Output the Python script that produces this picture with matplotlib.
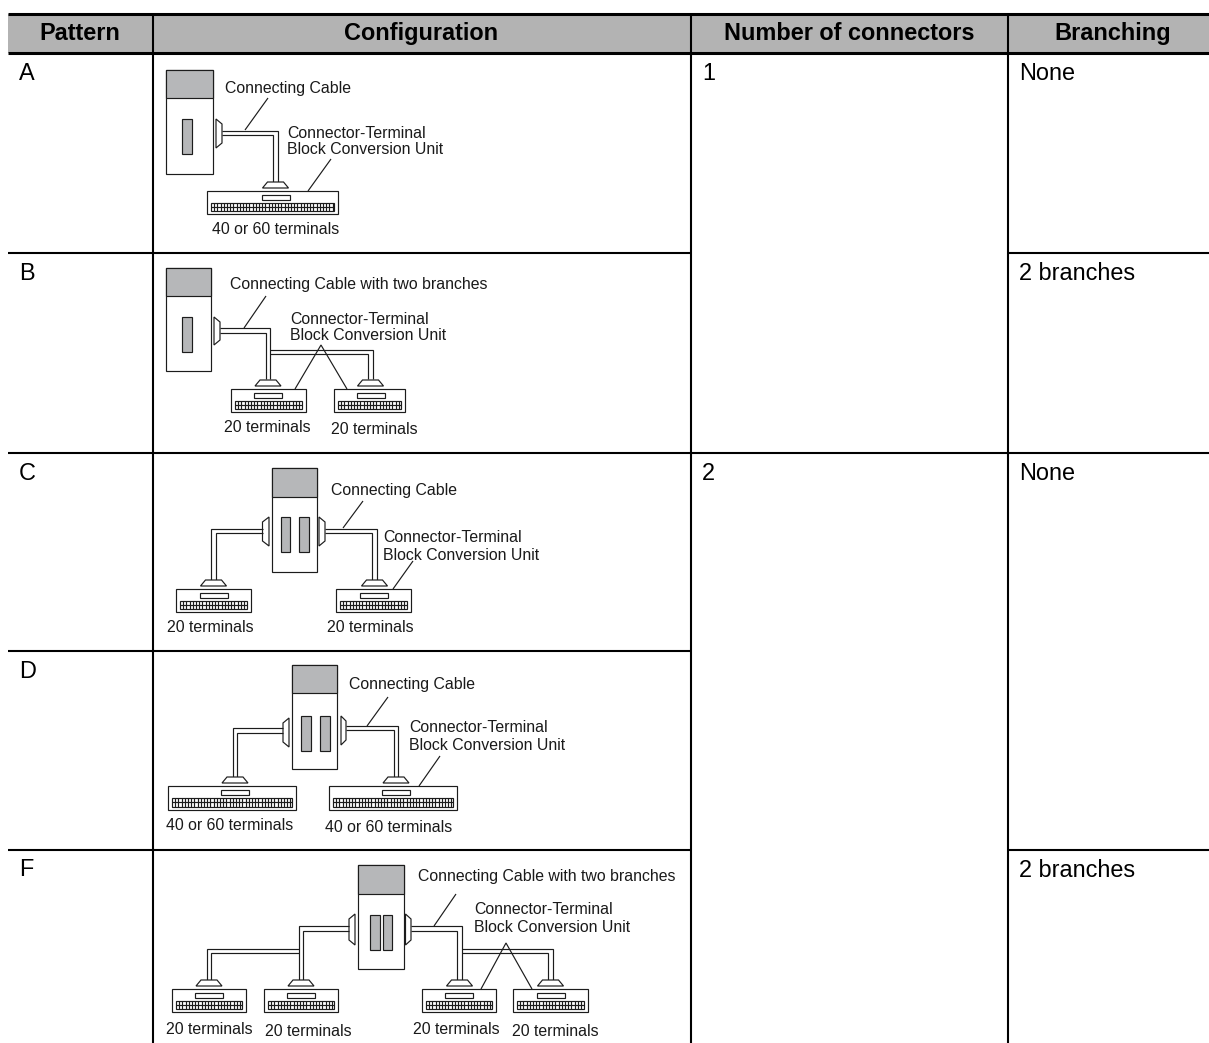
import matplotlib
matplotlib.use("Agg")
import matplotlib.pyplot as plt
from matplotlib.patches import Rectangle, Polygon

plt.rcParams['font.family'] = ['Liberation Sans', 'DejaVu Sans']

headers = ["Pattern", "Configuration", "Number of connectors", "Branching"]
patterns = ["A", "B", "C", "D", "F"]
connectors = ["1", "2"]
branching = ["None", "2 branches", "None", "2 branches"]
CABLE = "Connecting Cable"
CABLE2 = "Connecting Cable with two branches"
UNIT1 = "Connector-Terminal"
UNIT2 = "Block Conversion Unit"
T40 = "40 or 60 terminals"
T20 = "20 terminals"

INK = "#1c1c1c"
GREY = "#b6b7b9"
LW = 0.85

fig = plt.figure(figsize=(12.09, 10.43), dpi=100)
ax = fig.add_axes([0, 0, 1, 1])
ax.set_xlim(0, 1209)
ax.set_ylim(1043, 0)
ax.axis("off")


def hline(y, x0, x1, lw=1.5):
    ax.plot([x0, x1], [y, y], color="black", lw=lw, solid_capstyle="butt", zorder=5)


def vline(x, y0, y1, lw=1.5):
    ax.plot([x, x], [y0, y1], color="black", lw=lw, solid_capstyle="butt", zorder=5)


def box(x0, y0, x1, y1, fc="white", lw=LW):
    ax.add_patch(Rectangle((x0, y0), x1 - x0, y1 - y0, fc=fc, ec=INK, lw=lw, zorder=3))


def seg(pts, lw=LW, z=3):
    xs, ys = zip(*pts)
    ax.plot(xs, ys, color=INK, lw=lw, solid_joinstyle="miter", solid_capstyle="butt", zorder=z)


def small(x, yc, s):
    ax.text(x, yc + 5.5, s, fontsize=11.4, color="#1a1a1a", ha="left", va="baseline", zorder=6)


def cell(x, base, s):
    ax.text(x, base, s, fontsize=16.9, color="black", ha="left", va="baseline", zorder=6)


def plc(x0, x1, y0, ygrey, y1, slots, sy0, sy1):
    box(x0, y0, x1, y1)
    box(x0, y0, x1, ygrey, fc=GREY)
    for a, b in slots:
        box(a, sy0, b, sy1, fc=GREY)


def connector(xflat, xcable, y0, y1):
    ax.add_patch(Polygon([(xflat, y0), (xcable, y0 + 5), (xcable, y1 - 5), (xflat, y1)],
                         closed=True, fc="white", ec=INK, lw=LW, zorder=3))


def elbow(xs, xo, xi, yt, yb, yend):
    seg([(xs, yt), (xo, yt), (xo, yend)])
    seg([(xs, yb), (xi, yb), (xi, yend)])


def foot(cx, ybox):
    ax.add_patch(Polygon([(cx - 13, ybox - 3), (cx - 8, ybox - 9), (cx + 8, ybox - 9), (cx + 13, ybox - 3)],
                         closed=True, fc="white", ec=INK, lw=LW, zorder=4))


def block(x0, x1, y0, y1, cx):
    box(x0, y0, x1, y1)
    box(cx - 14, y0 + 3.5, cx + 14, y0 + 8.5, lw=LW)
    sx0, sx1, sy0, sy1 = x0 + 4, x1 - 4, y0 + 11.5, y1 - 3
    box(sx0, sy0, sx1, sy1, lw=LW)
    hline_y = (sy0 + sy1) / 2
    seg([(sx0, hline_y), (sx1, hline_y)], lw=0.85)
    x = sx0 + 3.2
    while x < sx1 - 1:
        seg([(x, sy0), (x, sy1)], lw=0.85)
        x += 3.2


# ---------- table frame ----------
ax.add_patch(Rectangle((8, 14), 1201, 39, fc="#b3b3b3", ec="none", zorder=1))
hline(14, 8, 1209, lw=2.2)
hline(53, 8, 1209, lw=2.2)
for x in (153, 691, 1008):
    vline(x, 14, 1043)
hline(253, 8, 691)
hline(253, 1008, 1209)
hline(453, 8, 1209)
hline(651, 8, 691)
hline(850, 8, 691)
hline(850, 1008, 1209)

for s, cx in zip(headers, (80, 421, 849, 1113)):
    ax.text(cx, 40, s, fontsize=16.9, fontweight="bold", color="black", ha="center", va="baseline", zorder=6)
for s, base in zip(patterns, (80, 280, 480, 678, 876)):
    cell(19, base, s)
for s, base in zip(connectors, (80, 480)):
    cell(702, base, s)
for s, base in zip(branching, (80, 280, 480, 877)):
    cell(1019, base, s)

# ---------- pattern A ----------
plc(166, 213, 70, 98, 174, [(182, 192)], 119, 154)
connector(216, 222, 119, 148)
elbow(222, 278, 273, 130.5, 135, 182)
foot(275.5, 191)
block(207, 338, 191, 214, 275.5)
seg([(268, 98), (245, 130)])
seg([(331, 159), (308, 191)])
small(225, 87, CABLE)
small(287, 132, UNIT1)
small(287, 149, UNIT2)
small(212, 229, T40)

# ---------- pattern B ----------
plc(166, 211, 268, 296, 371, [(182, 192)], 317, 352)
connector(214, 220, 317, 345)
elbow(220, 270, 266, 328, 333, 379)
elbow(270, 373, 368, 350, 354, 379)
foot(268, 389)
foot(370.5, 389)
block(231, 306, 389, 412, 268)
block(334, 405, 389, 412, 371)
seg([(266, 296), (244, 328)])
seg([(295, 389), (321, 345), (347, 389)])
small(230, 283, CABLE2)
small(290, 318, UNIT1)
small(290, 335, UNIT2)
small(224, 427, T20)
small(331, 429, T20)

# ---------- pattern C ----------
plc(272, 317, 468, 497, 572, [(281, 290), (299, 309)], 517, 552)
connector(269, 262.5, 517, 546)
connector(319, 325, 517, 546)
elbow(262.5, 211, 216, 529, 533, 581)
elbow(325, 377, 372, 529, 533, 581)
foot(213.5, 589)
foot(374.5, 589)
block(176, 251, 589, 612, 213.5)
block(336, 411, 589, 612, 374)
seg([(363, 501), (343, 528)])
seg([(413, 561), (393, 589)])
small(331, 490, CABLE)
small(383, 537, UNIT1)
small(383, 554, UNIT2)
small(167, 626, T20)
small(327, 626, T20)

# ---------- pattern D ----------
plc(292, 337, 665, 693, 769, [(301, 311), (320, 330)], 716, 751)
connector(289, 283, 718, 747)
connector(341, 346, 716, 745)
elbow(283, 233, 237, 728, 733, 777)
elbow(346, 398, 394, 726, 730, 777)
foot(235, 786)
foot(396, 786)
block(168, 296, 786, 810, 235)
block(329, 457, 786, 810, 396)
seg([(388, 697), (367, 726)])
seg([(440, 756), (419, 786)])
small(349, 683, CABLE)
small(409, 727, UNIT1)
small(409, 744, UNIT2)
small(166, 824, T40)
small(325, 826, T40)

# ---------- pattern F ----------
plc(358, 404, 865, 894, 969, [(370, 380), (383, 392)], 915, 950)
connector(355, 349, 914, 945)
connector(405.5, 411, 914, 945)
elbow(349, 299, 303, 926, 931, 980)
elbow(299, 207, 211, 949, 953, 980)
elbow(411, 462, 457, 926, 931, 980)
elbow(462, 553, 548, 949, 953, 980)
foot(209, 989)
foot(301, 989)
foot(459.5, 989)
foot(550.5, 989)
block(172, 246, 989, 1012, 209)
block(264, 338, 989, 1012, 301)
block(422, 496, 989, 1012, 459)
block(513, 588, 989, 1012, 550.5)
seg([(456, 894), (434, 926)])
seg([(481, 989), (506, 943), (532, 989)])
small(418, 876, CABLE2)
small(474, 908, UNIT1)
small(474, 926, UNIT2)
small(166, 1028, T20)
small(265, 1030, T20)
small(413, 1028, T20)
small(511.5, 1030, T20)

fig.savefig("out.png", dpi=100, facecolor="white")
